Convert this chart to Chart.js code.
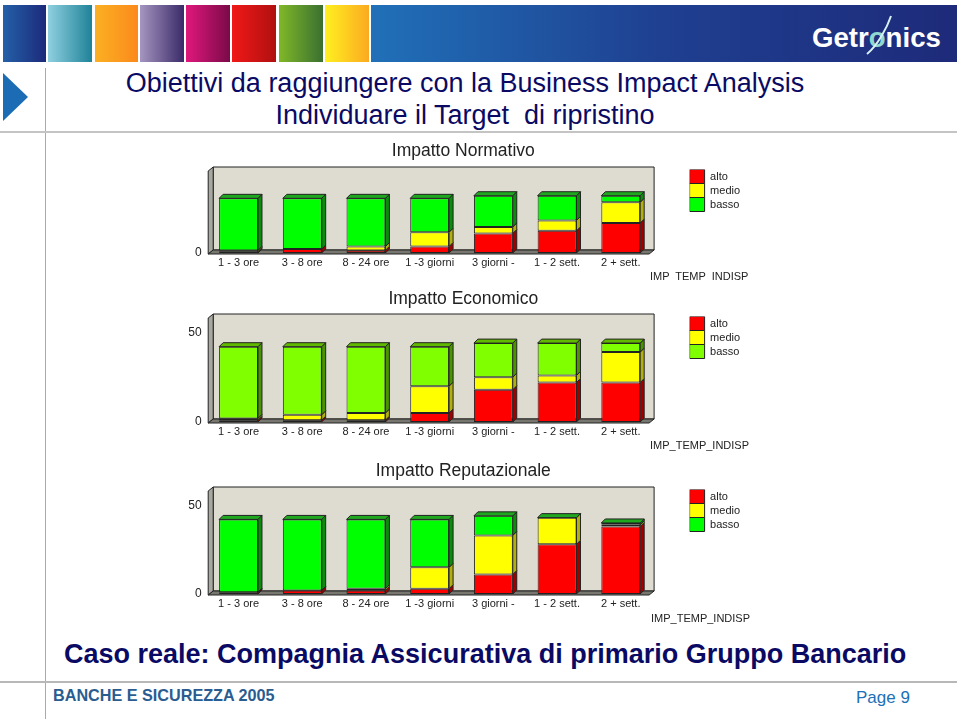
<!doctype html>
<html>
<head>
<meta charset="utf-8">
<title>Obiettivi da raggiungere con la Business Impact Analysis</title>
<script src="https://cdn.jsdelivr.net/npm/chart.js@4/dist/chart.umd.js"></script>
<style>
  html, body { margin: 0; padding: 0; background: #fff; }
  body { position: relative; width: 960px; height: 721px; overflow: hidden; font-family: "Liberation Sans", Arial, sans-serif; }
  .abs { position: absolute; }
  .strip { position: absolute; top: 5px; height: 57px; }
  canvas { position: absolute; left: 170px; }
  .head { position: absolute; left: 0; width: 930px; text-align: center; color: #0a0a64; font-size: 27px; line-height: 30px; white-space: pre; }
  .axisname { position: absolute; font-size: 11px; color: #222; white-space: pre; }
</style>
</head>
<body>
  <div class="strip" style="left:3px;width:43px;background:linear-gradient(90deg,#2460a8,#1c2a7a)"></div>
  <div class="strip" style="left:48px;width:44px;background:linear-gradient(90deg,#8fd0e0,#1f8298)"></div>
  <div class="strip" style="left:95px;width:43px;background:linear-gradient(90deg,#fbb023,#fb8a1c)"></div>
  <div class="strip" style="left:140px;width:44px;background:linear-gradient(90deg,#a595c0,#3a2a68)"></div>
  <div class="strip" style="left:186px;width:44px;background:linear-gradient(90deg,#e0187c,#7a0a48)"></div>
  <div class="strip" style="left:232px;width:44px;background:linear-gradient(90deg,#f01818,#b01010)"></div>
  <div class="strip" style="left:279px;width:44px;background:linear-gradient(90deg,#80b828,#3a7030)"></div>
  <div class="strip" style="left:325px;width:44px;background:linear-gradient(90deg,#fff020,#fbaa20)"></div>
  <div class="strip" style="left:371px;width:586px;background:linear-gradient(90deg,#2070b8,#1f3f90 50%,#1e2a7a)"></div>

  <div class="abs" style="left:812px;top:20px;font-size:27.6px;font-weight:bold;color:#fff;line-height:36px">Getr<span style="color:#8fd8d0">o</span>nics</div>
  <svg class="abs" style="left:861px;top:12px" width="40" height="46">
    <path d="M6 42 C16 34 26 16 30 4" fill="none" stroke="#d8f0f0" stroke-width="2"/>
  </svg>

  <svg class="abs" style="left:0;top:0" width="50" height="130">
    <polygon points="3,73 28,97 3,121" fill="#1b6cb4"/>
  </svg>

  <div class="abs" style="left:45px;top:68px;width:1px;height:651px;background:#aaa"></div>
  <div class="abs" style="left:0;top:131px;width:957px;height:2px;background:#c4c4c4"></div>
  <div class="abs" style="left:0;top:681px;width:957px;height:2px;background:#b8b8b8"></div>

  <div class="head" style="top:68px">Obiettivi da raggiungere con la Business Impact Analysis</div>
  <div class="head" style="top:100px">Individuare il Target  di ripristino</div>

  <canvas id="chartNormativo" width="586" height="135" style="top:138px"></canvas>
  <canvas id="chartEconomico" width="586" height="156" style="top:286px"></canvas>
  <canvas id="chartReputazionale" width="586" height="156" style="top:458px"></canvas>

  <div class="axisname" style="left:650px;top:270px">IMP  TEMP  INDISP</div>
  <div class="axisname" style="left:650px;top:439px">IMP_TEMP_INDISP</div>
  <div class="axisname" style="left:651px;top:612px">IMP_TEMP_INDISP</div>

  <div class="abs" style="left:64px;top:639px;font-size:27px;font-weight:bold;color:#0a0a64;line-height:30px;white-space:pre">Caso reale: Compagnia Assicurativa di primario Gruppo Bancario</div>
  <div class="abs" style="left:53px;top:685px;font-size:16.2px;font-weight:bold;color:#2a5c90;line-height:20px">BANCHE E SICUREZZA 2005</div>
  <div class="abs" style="left:856px;top:688px;font-size:17px;color:#2070b8;line-height:20px;white-space:pre">Page 9</div>

<script>
  const categories = ['1 - 3 ore', '3 - 8 ore', '8 - 24 ore', '1 -3 giorni', '3 giorni -', '1 - 2 sett.', '2 + sett.'];
  const seriesNames = ['alto', 'medio', 'basso'];

  const normativoAlto = [1, 3, 2, 5, 15, 17, 23];
  const normativoMedio = [1, 0, 3, 11, 5, 8, 16];
  const normativoBasso = [40, 39, 37, 26, 24, 19, 5];
  const normativoTicks = [0];

  const economicoAlto = [1, 1, 1, 5, 18, 22, 22];
  const economicoMedio = [1, 3, 4, 15, 7, 4, 17];
  const economicoBasso = [40, 38, 37, 22, 19, 18, 5];
  const economicoTicks = [0, 50];

  const reputazionaleAlto = [1, 2, 2, 3, 11, 28, 38];
  const reputazionaleMedio = [0, 0, 1, 12, 22, 15, 1];
  const reputazionaleBasso = [41, 40, 39, 27, 11, 0, 1];
  const reputazionaleTicks = [0, 50];

  Chart.defaults.font.family = '"Liberation Sans", Arial, sans-serif';

  const DEPTH_X = 4;
  const DEPTH_Y = 4;

  function poly(ctx, pts, fill) {
    ctx.fillStyle = fill;
    ctx.strokeStyle = '#222';
    ctx.lineWidth = 1;
    ctx.beginPath();
    pts.forEach((p, i) => i ? ctx.lineTo(p[0], p[1]) : ctx.moveTo(p[0], p[1]));
    ctx.closePath();
    ctx.fill();
    ctx.stroke();
  }

  // back wall, left wall and floor behind the bars
  const panelPlugin = {
    id: 'panel',
    beforeDatasetsDraw(chart) {
      const ctx = chart.ctx;
      const a = chart.chartArea;
      const fl = a.left + 1.5, bl = a.left + 6.5, br = a.right + 1.5, fr = a.right - 3.5;
      const top = a.top, bottom = a.bottom + 1;
      poly(ctx, [[bl, top - 4], [br, top - 4], [br, bottom - 4], [bl, bottom - 4]], '#dedcd0');
      poly(ctx, [[fl, top], [bl, top - 4], [bl, bottom - 4], [fl, bottom]], '#a8a8a0');
      poly(ctx, [[fl, bottom], [bl, bottom - 4], [br, bottom - 4], [fr, bottom]], '#77776f');
    }
  };

  // side faces and top cap of the stacked bars
  const depthPlugin = {
    id: 'depth',
    afterDatasetsDraw(chart) {
      const ctx = chart.ctx;
      const sides = chart.options.plugins.depth.sides;
      const last = chart.data.datasets.length - 1;
      chart.data.datasets.forEach((ds, d) => {
        chart.getDatasetMeta(d).data.forEach((bar) => {
          const l = bar.x - bar.width / 2, r = bar.x + bar.width / 2;
          poly(ctx, [[r, bar.y], [r + DEPTH_X, bar.y - DEPTH_Y], [r + DEPTH_X, bar.base - DEPTH_Y], [r, bar.base]], sides[d]);
          if (d === last) {
            poly(ctx, [[l, bar.y], [l + DEPTH_X, bar.y - DEPTH_Y], [r + DEPTH_X, bar.y - DEPTH_Y], [r, bar.y]], chart.options.plugins.depth.cap);
          }
        });
      });
    }
  };

  // legend sits beside the plot and the title is centred on the whole canvas
  const placeBoxes = {
    id: 'placeBoxes',
    afterLayout(chart) {
      const lg = chart.legend;
      lg.left = chart.chartArea.right + 37;
      lg.right = lg.left + 100;
      lg.top = chart.chartArea.top - 1.5;
      lg.bottom = lg.top + 60;
      chart.titleBlock.left += 52;
      chart.titleBlock.right += 52;
    }
  };

  function makeChart(id, alto, medio, basso, tickValues, yMax, titleText, green, greenSide, greenCap, titleBottom) {
    const values = [alto, medio, basso];
    const colors = ['#ff0000', '#ffff00', green];
    return new Chart(document.getElementById(id), {
      type: 'bar',
      data: {
        labels: categories,
        datasets: seriesNames.map((name, i) => ({
          label: name,
          data: values[i],
          backgroundColor: colors[i],
          borderColor: '#222',
          borderWidth: 1,
          borderSkipped: false,
          barPercentage: 0.61,
          categoryPercentage: 1
        }))
      },
      options: {
        responsive: false,
        animation: false,
        layout: { padding: { left: 0, right: 103.4, top: 0, bottom: 0 } },
        scales: {
          x: {
            stacked: true,
            grid: { display: false, drawTicks: false },
            border: { display: false },
            ticks: { color: '#222', font: { size: 11 }, padding: 3, maxRotation: 0, autoSkip: false },
            afterFit: (s) => { s.height = 20; }
          },
          y: {
            stacked: true,
            min: 0,
            max: yMax,
            grid: { display: false, drawTicks: false },
            border: { display: false },
            afterBuildTicks: (s) => { s.ticks = tickValues.map((v) => ({ value: v })); },
            ticks: { color: '#222', font: { size: 12 }, padding: 5 },
            afterFit: (s) => { s.width = 36.7; }
          }
        },
        plugins: {
          title: {
            display: true,
            text: titleText,
            color: '#222',
            font: { size: 17.5, weight: 'normal' },
            padding: { top: 3, bottom: titleBottom }
          },
          legend: {
            position: 'chartArea',
            align: 'start',
            labels: { boxWidth: 15, boxHeight: 14, padding: 0, color: '#222', font: { size: 11 } }
          },
          tooltip: { enabled: false },
          depth: { sides: ['#a00000', '#b0b010', greenSide], cap: greenCap }
        }
      },
      plugins: [panelPlugin, depthPlugin, placeBoxes]
    });
  }

  makeChart('chartNormativo', normativoAlto, normativoMedio, normativoBasso, normativoTicks, 63, 'Impatto Normativo', '#00ff00', '#0c8c0c', '#1fa81f', 9);
  makeChart('chartEconomico', economicoAlto, economicoMedio, economicoBasso, economicoTicks, 58, 'Impatto Economico', '#80ff00', '#4a9400', '#60b800', 8);
  makeChart('chartReputazionale', reputazionaleAlto, reputazionaleMedio, reputazionaleBasso, reputazionaleTicks, 58, 'Impatto Reputazionale', '#00ff00', '#0c8c0c', '#1fa81f', 9);
</script>
</body>
</html>
